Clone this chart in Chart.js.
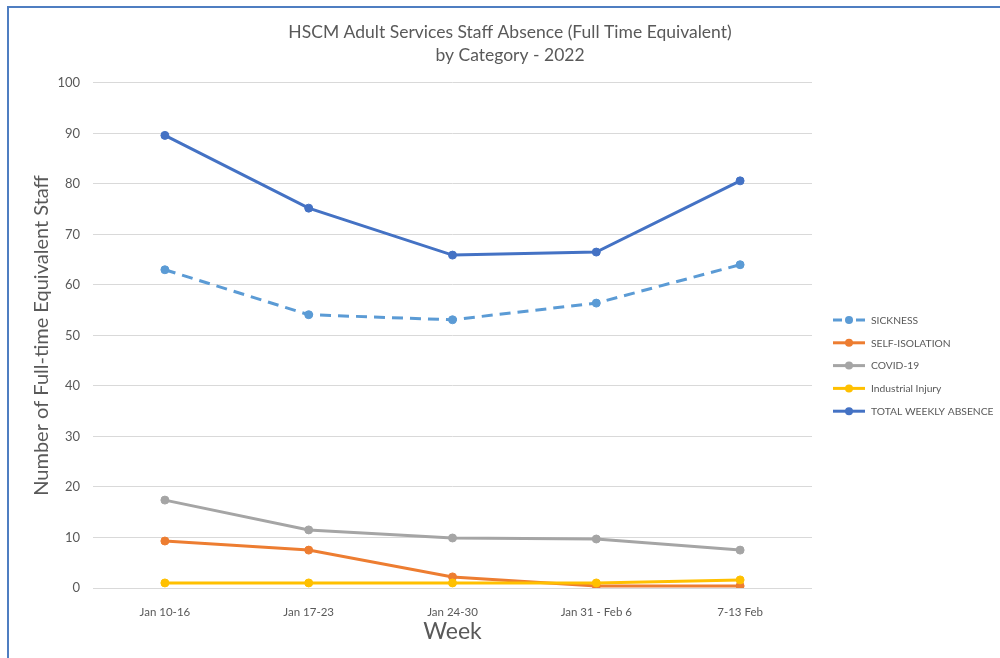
<!DOCTYPE html>
<html>
<head>
<meta charset="utf-8">
<title>Staff Absence by Category</title>
<script src="https://cdn.jsdelivr.net/npm/chart.js@4.4.1/dist/chart.umd.min.js"></script>
<style>
  html, body { margin: 0; padding: 0; background: #fff; overflow: hidden; }
  body { width: 1000px; height: 658px; position: relative; }
  .frame {
    position: absolute; left: 7px; top: 6px; width: 1000px; height: 660px;
    border-top: 2px solid #4f7ec1; border-left: 2px solid #4f7ec1;
  }
  #absence { position: absolute; left: 10px; top: 9px; }
</style>
</head>
<body>
<div class="frame"></div>
<canvas id="absence" width="1000" height="650"></canvas>
<script>
// Weekly FTE absence, early 2022
const weeks = ["Jan 10-16", "Jan 17-23", "Jan 24-30", "Jan 31 - Feb 6", "7-13 Feb"];
const sickness = [63.0, 54.1, 53.1, 56.4, 64.0];
const selfIsolation = [9.3, 7.5, 2.2, 0.4, 0.4];
const covid19 = [17.4, 11.5, 9.9, 9.7, 7.5];
const industrialInjury = [1.0, 1.0, 1.0, 1.0, 1.6];
const totalWeekly = [89.6, 75.2, 65.9, 66.5, 80.6];

const TEXT = "#595959";
const GRID = "#d9d9d9";

Chart.defaults.font.family = "Lato, 'Open Sans', sans-serif";
Chart.defaults.color = TEXT;

const series = (label, data, color, extra = {}) => ({
  label,
  data,
  borderColor: color,
  backgroundColor: color,
  pointBackgroundColor: color,
  pointBorderColor: color,
  borderWidth: 3,
  pointRadius: 4,
  pointBorderWidth: 1,
  tension: 0,
  ...extra,
});

// Excel-style legend: short line with a marker, stacked on the right
const sideLegend = {
  id: "sideLegend",
  afterDraw(chart) {
    const { ctx } = chart;
    const x0 = 823, top = 311, step = 22.8, len = 32;
    ctx.save();
    ctx.font = "10.3px Lato, 'Open Sans', sans-serif";
    ctx.textBaseline = "middle";
    chart.data.datasets.forEach((ds, i) => {
      const y = top + i * step;
      ctx.strokeStyle = ds.borderColor;
      ctx.lineWidth = 3;
      ctx.beginPath();
      if (ds.borderDash) {
        ctx.moveTo(x0, y); ctx.lineTo(x0 + 9, y);
        ctx.moveTo(x0 + len - 9, y); ctx.lineTo(x0 + len, y);
      } else {
        ctx.moveTo(x0, y); ctx.lineTo(x0 + len, y);
      }
      ctx.stroke();
      ctx.fillStyle = ds.borderColor;
      ctx.beginPath();
      ctx.arc(x0 + len / 2, y, 4, 0, Math.PI * 2);
      ctx.fill();
      ctx.fillStyle = TEXT;
      ctx.fillText(ds.label, x0 + len + 6, y + 0.5);
    });
    ctx.restore();
  },
};

new Chart(document.getElementById("absence"), {
  type: "line",
  data: {
    labels: weeks,
    datasets: [
      series("SICKNESS", sickness, "#5b9bd5", { borderDash: [11, 7], order: 4 }),
      series("SELF-ISOLATION", selfIsolation, "#ed7d31", { order: 3 }),
      series("COVID-19", covid19, "#a5a5a5", { order: 2 }),
      series("Industrial Injury", industrialInjury, "#ffc000", { order: 1 }),
      series("TOTAL WEEKLY ABSENCE", totalWeekly, "#4472c4", { order: 0 }),
    ],
  },
  options: {
    responsive: false,
    animation: false,
    devicePixelRatio: 1,
    layout: { padding: 0 },
    plugins: {
      legend: { display: false },
      tooltip: { enabled: false },
      title: {
        display: true,
        text: ["HSCM Adult Services Staff Absence (Full Time Equivalent)", "by Category - 2022"],
        color: TEXT,
        font: { size: 17.5, weight: "normal", lineHeight: 1.31 },
        padding: { top: 12, bottom: 16 },
      },
    },
    scales: {
      x: {
        offset: true,
        grid: { display: false },
        border: { display: false },
        ticks: { color: TEXT, font: { size: 11.5 }, padding: 9, maxRotation: 0 },
        title: { display: true, text: "Week", color: TEXT, font: { size: 23 }, padding: { top: 0, bottom: 14 } },
        afterFit: (scale) => { scale.height = 71; },
      },
      y: {
        min: 0,
        max: 100,
        grid: { color: GRID, lineWidth: 1, drawTicks: false },
        border: { display: false },
        ticks: { stepSize: 10, color: TEXT, font: { size: 13 }, padding: 13 },
        title: {
          display: true,
          text: "Number of Full-time Equivalent Staff",
          color: TEXT,
          font: { size: 20 },
          padding: { top: 20, bottom: 0 },
        },
        afterFit: (scale) => { scale.width = 83; },
      },
      // empty right-hand axis that keeps room for the legend
      side: {
        type: "linear",
        position: "right",
        grid: { display: false },
        border: { display: false },
        ticks: { display: false },
        afterFit: (scale) => { scale.width = 198; },
      },
    },
  },
  plugins: [sideLegend],
});
</script>
</body>
</html>
